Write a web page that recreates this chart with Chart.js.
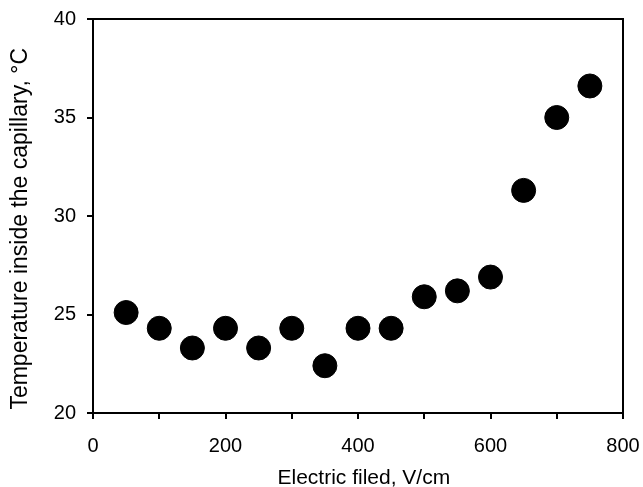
<!DOCTYPE html>
<html>
<head>
<meta charset="utf-8">
<script src="https://cdn.jsdelivr.net/npm/chart.js@4/dist/chart.umd.min.js"></script>
<style>
  html, body { margin: 0; padding: 0; background: #fff; }
  #wrap { width: 643px; height: 487px; }
</style>
</head>
<body>
<div id="wrap"><canvas id="mainChart" width="643" height="487"></canvas></div>
<script>
const fieldValues = [50, 100, 150, 200, 250, 300, 350, 400, 450, 500, 550, 600, 650, 700, 750];
const temperatures = [25.1, 24.3, 23.3, 24.3, 23.3, 24.3, 22.4, 24.3, 24.3, 25.9, 26.2, 26.9, 31.3, 35.0, 36.6];
const xLabels = [0, 200, 400, 600, 800];
const yLabels = [20, 25, 30, 35, 40];

const points = fieldValues.map((x, i) => ({ x: x, y: temperatures[i] }));

// frame round the plot area
const boxPlugin = {
  id: "box",
  afterDraw(chart) {
    const a = chart.chartArea;
    const ctx = chart.ctx;
    ctx.save();
    ctx.strokeStyle = "#000";
    ctx.lineWidth = 2;
    ctx.strokeRect(a.left, a.top, a.right - a.left, a.bottom - a.top);
    ctx.restore();
  },
};

// labels may run past the plot edges, like in the original
function noOverflowPadding(s) {
  s.paddingLeft = 0;
  s.paddingRight = 0;
  s.paddingTop = 0;
  s.paddingBottom = 0;
}

const fontFamily = "'Liberation Sans', Arial, sans-serif";
const tickFont = { family: fontFamily, size: 20 };

new Chart(document.getElementById("mainChart").getContext("2d"), {
  type: "scatter",
  data: {
    datasets: [
      {
        data: points,
        backgroundColor: "#000",
        borderColor: "#000",
        pointRadius: 12,
        pointHoverRadius: 12,
      },
    ],
  },
  options: {
    responsive: false,
    animation: false,
    layout: { padding: { top: 19, right: 20, left: 0, bottom: 0 } },
    plugins: { legend: { display: false }, tooltip: { enabled: false } },
    scales: {
      x: {
        type: "linear",
        min: 0,
        max: 800,
        afterFit: (s) => { s.height = 74; noOverflowPadding(s); },
        border: { display: true, color: "#000", width: 2 },
        grid: { drawOnChartArea: false, drawTicks: true, tickLength: 6, color: "#000", lineWidth: 2 },
        ticks: {
          stepSize: 100,
          color: "#000",
          font: tickFont,
          padding: 15,
          maxRotation: 0,
          callback: (v) => (xLabels.includes(v) ? v : ""),
        },
        title: { display: true, text: "  Electric filed, V/cm", color: "#000", font: { family: fontFamily, size: 21 }, padding: { top: 0, bottom: -4 } },
      },
      y: {
        min: 20,
        max: 40,
        afterFit: (s) => { s.width = 93; noOverflowPadding(s); },
        border: { display: true, color: "#000", width: 2 },
        grid: { drawOnChartArea: false, drawTicks: true, tickLength: 6, color: "#000", lineWidth: 2 },
        ticks: {
          stepSize: 5,
          color: "#000",
          font: tickFont,
          padding: 11,
          callback: (v) => (yLabels.includes(v) ? v : ""),
        },
        title: { display: true, text: "Temperature inside the capillary, °C    ", color: "#000", font: { family: fontFamily, size: 23 }, padding: { top: 7, bottom: 0 } },
      },
    },
  },
  plugins: [boxPlugin],
});
</script>
</body>
</html>
